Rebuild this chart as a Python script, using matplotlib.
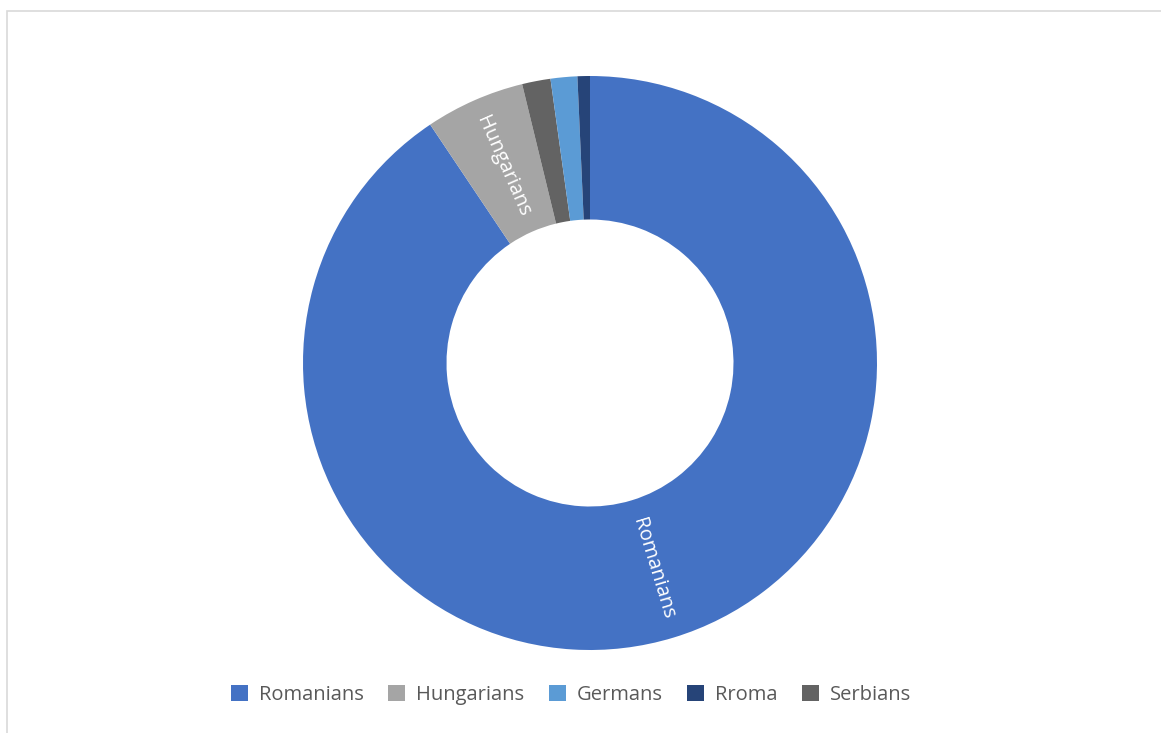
import matplotlib
matplotlib.use("Agg")
import matplotlib.pyplot as plt
from matplotlib.patches import Rectangle, Patch
import numpy as np

# slices, clockwise from 12 o'clock
groups = ['Romanians', 'Hungarians', 'Serbians', 'Germans', 'Rroma']
shares = [90.6, 5.6, 1.6, 1.5, 0.7]
colors = {'Romanians': '#4472C4', 'Hungarians': '#A5A5A5', 'Germans': '#5B9BD5',
          'Rroma': '#264478', 'Serbians': '#636363'}
legend_order = ['Romanians', 'Hungarians', 'Germans', 'Rroma', 'Serbians']
labelled = ['Romanians', 'Hungarians']

plt.rcParams['font.family'] = ['Open Sans', 'DejaVu Sans']

W, H = 1161, 733
fig = plt.figure(figsize=(W / 100, H / 100), dpi=100)

# outer frame (only top and left edges fall inside the image)
fig.patches.append(Rectangle((7 / W, -0.2), 1.2, 1.2 - 11 / H, transform=fig.transFigure,
                             fill=False, edgecolor='#D9D9D9', linewidth=1.2))

# donut: centre (590, 363), outer radius ~287 px
cx, cy, r = 590, 363, 287
ax = fig.add_axes([(cx - r) / W, 1 - (cy + r) / H, 2 * r / W, 2 * r / H])
wedges, _ = ax.pie(shares, colors=[colors[g] for g in groups], startangle=90,
                   counterclock=False, radius=1.0,
                   wedgeprops=dict(width=0.5, edgecolor='none'))
ax.set_xlim(-1, 1)
ax.set_ylim(-1, 1)
ax.set_aspect('equal')
ax.axis('off')

# radial labels inside the ring
total = float(sum(shares))
start = 0.0
for g, s in zip(groups, shares):
    mid = start + s / total * 360 / 2
    start += s / total * 360
    if g not in labelled:
        continue
    theta = np.deg2rad(90 - mid)
    rr = 0.75
    rot = np.rad2deg(theta)
    if rot < -90:
        rot += 180
    if rot > 90:
        rot -= 180
    ax.text(rr * np.cos(theta), rr * np.sin(theta), g, color='white', fontsize=14.5,
            rotation=rot, rotation_mode='anchor', ha='center', va='center')

handles = [Patch(facecolor=colors[g], edgecolor='none') for g in legend_order]
fig.legend(handles, legend_order, loc='center', bbox_to_anchor=(571 / W, 1 - 695 / H),
           ncol=5, frameon=False, fontsize=14.5, labelcolor='#595959',
           handlelength=0.85, handleheight=0.85, handletextpad=0.55, columnspacing=1.2)

fig.savefig('out.png', dpi=100)
